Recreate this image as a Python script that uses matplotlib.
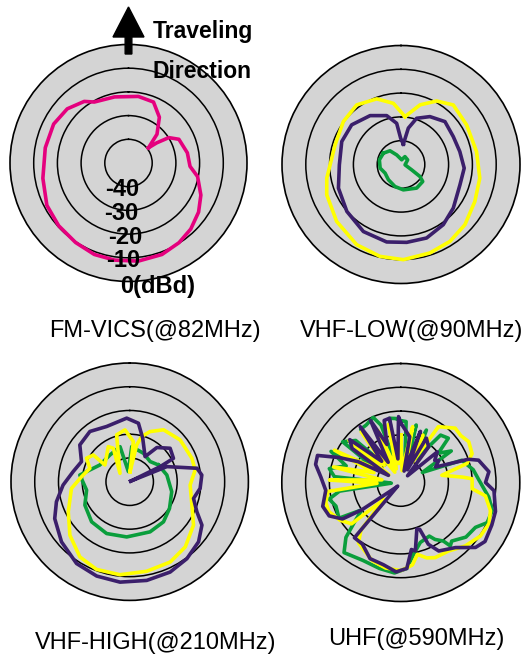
import numpy as np
import matplotlib
matplotlib.use('Agg')
import matplotlib.pyplot as plt
from matplotlib.patches import FancyArrow

plt.rcParams['font.family'] = ['Liberation Sans', 'DejaVu Sans']

W, H = 525, 654

## colours of the measured series
PINK = '#e5007e'
PURPLE = '#3b1f6b'
YELLOW = '#ffff00'
GREEN = '#0a9e3c'
DISC = '#d4d4d4'

## FM-VICS (@82MHz) - angle (deg, clockwise from travel direction) / level (dBd)
fm_ang = [52.7, 44.7, 34.0, 22.3, 8.4, 348.1, 330.7, 324.3, 311.5, 297.5, 280.4, 259.9,
          242.6, 228.1, 213.6, 200.5, 188.1, 174.3, 159.9, 147.6, 136.7, 125.0, 113.9,
          101.1, 93.1, 80.2, 64.8, 57.8, 54.5]
fm_db = [-39.4, -32.9, -26.7, -22.2, -21.6, -21.5, -20.5, -18.0, -15.5, -14.4, -14.3, -13.3,
         -11.2, -10.4, -9.7, -8.8, -8.6, -8.4, -8.9, -10.2, -11.7, -13.9, -16.6,
         -20.3, -24.0, -24.8, -26.5, -29.9, -35.3]

## VHF-LOW (@90MHz)
low_yellow_ang = [4.8, 17.7, 29.3, 41.3, 58.9, 80.3, 99.8, 116.6, 133.3, 147.5, 161.9, 178.6,
                  192.9, 208.9, 228.5, 247.8, 259.6, 286.6, 306.7, 323.4, 339.7, 352.9]
low_yellow_db = [-29.8, -23.7, -19.4, -16.7, -17.8, -17.8, -16.4, -15.3, -13.1, -11.7, -10.9, -10.0,
                 -10.4, -11.5, -13.9, -16.3, -18.3, -21.1, -19.8, -18.8, -20.6, -24.1]
low_purple_ang = [6.5, 11.4, 18.7, 31.1, 45.7, 61.9, 77.6, 93.3, 109.0, 129.8, 144.9, 160.8,
                  175.8, 190.5, 209.3, 229.1, 249.3, 269.7, 291.2, 308.8, 327.7, 343.7, 354.0, 359.3]
low_purple_db = [-41.4, -34.4, -29.5, -26.5, -24.2, -25.1, -24.7, -23.4, -23.8, -21.4, -19.1, -17.3,
                 -17.2, -16.9, -17.7, -19.9, -21.9, -24.1, -23.3, -23.4, -25.7, -28.6, -32.6, -39.0]
low_green_ang = [302.7, 321.2, 335.9, 8.1, 26.6, 55.0, 94.8, 116.6, 122.3, 128.1, 146.5, 174.7,
                 195.3, 219.6, 241.6, 260.1, 282.2]
low_green_db = [-41.2, -42.6, -45.6, -48.0, -46.3, -46.6, -48.3, -45.0, -40.6, -38.4, -38.1, -39.3,
                -40.4, -41.7, -42.4, -41.1, -40.7]

## VHF-HIGH (@210MHz)
high_green_ang = [59.8, 79.8, 103.4, 123.9, 139.9, 157.9, 183.1, 204.0, 223.5, 242.4, 259.0, 277.6,
                  286.4, 299.3, 323.6, 344.6, 352.4, 3.3, 25.8, 45.5]
high_green_db = [-36.0, -34.1, -31.8, -29.8, -27.9, -27.2, -26.7, -26.1, -26.7, -28.7, -31.5, -28.8,
                 -32.5, -35.6, -36.0, -34.7, -45.7, -35.2, -36.7, -37.9]
high_yellow_ang = [1.9, 10.8, 14.9, 22.1, 33.1, 50.4, 69.4, 79.9, 93.2, 110.6, 124.2, 139.6, 153.2,
                   169.2, 186.0, 200.7, 213.5, 228.2, 243.9, 263.4, 275.9, 288.6, 298.5, 306.3, 304.0,
                   328.6, 333.9, 310.8, 344.4, 354.8, 5.2]
high_yellow_db = [-45.8, -34.2, -30.3, -27.2, -23.9, -22.4, -22.0, -22.0, -24.5, -22.0, -17.5, -13.9, -12.1,
                  -11.6, -10.6, -10.5, -12.0, -16.2, -21.2, -25.3, -29.6, -32.3, -29.3, -31.0, -37.4,
                  -32.7, -34.3, -44.6, -29.5, -28.1, -33.0]
high_purple_ang = [60, 67.9, 78.7, 84.7, 95.4, 104.7, 114.1, 121.0, 131.1, 143.4, 155.9, 170.2, 185.5,
                   199.3, 213.0, 228.6, 243.8, 254.7, 267.1, 280.1, 292.6, 306.4, 321.6, 337.3, 357.3,
                   8.5, 16.7, 31.5, 38.5, 50.4, 61.9, 63.7]
high_purple_db = [-49.5, -33.1, -21.1, -19.5, -20.2, -22.2, -19.0, -14.5, -11.5, -9.6, -8.3, -7.8, -7.5,
                  -7.9, -8.9, -11.7, -14.8, -18.0, -21.9, -25.8, -28.0, -23.9, -23.0, -24.8, -23.2,
                  -25.1, -30.9, -37.6, -31.6, -27.9, -29.1, -35.7]

## UHF (@590MHz)
uhf_green_ang = [0, 5, 10, 15, 20, 26, 33, 40, 47, 52, 58, 65, 70, 80, 88, 99.5, 107, 115, 121, 130,
                 139, 142, 144, 149, 152, 162, 170, 176, 184, 194, 206, 219, 225, 230, 235, 240, 250,
                 257, 262, 266, 270, 275, 281, 287, 294, 300, 305, 313, 318, 323, 329, 337, 341, 345,
                 350, 355]
uhf_green_db = [-24, -24.3, -40, -25, -42, -25.5, -38, -24, -22.7, -30, -25, -40, -22.7, -19.1, -17.2,
                -12.5, -9.8, -10.0, -13.4, -14.3, -17.4, -16.2, -19.6, -22.1, -24.5, -23.5, -19.3,
                -13.8, -11.9, -12.8, -13.6, -12.1, -17.4, -25, -30, -20, -21, -19.1, -24, -46, -44,
                -22, -19.4, -26, -17.9, -36, -20.2, -24.1, -40, -22, -21.8, -20.3, -24.5, -42, -22.6, -23]
uhf_yellow_ang = [0, 6, 12, 18, 25, 30, 34, 45, 52, 59, 68, 74, 80, 85, 87, 95, 99, 107.5, 115, 124,
                  134.5, 145, 155.5, 161, 167, 172, 180, 190, 200, 210, 215, 220, 225, 230, 238, 248,
                  255, 263, 268, 272, 278, 283, 290, 296, 303, 309, 316, 322, 330, 336, 342, 348, 354]
uhf_yellow_db = [-30, -45, -26, -44, -28, -40, -21.7, -17.7, -18, -16.7, -17.7, -21.1, -32.5, -24, -20,
                 -19.9, -14.0, -10.5, -9.1, -9.7, -12.0, -14.9, -15.3, -16.5, -19, -15, -13, -13.5,
                 -15, -18, -19, -24, -40, -23, -20, -17.4, -17.4, -19.1, -40, -20, -42, -21, -38, -19,
                 -44, -22, -40, -23, -45, -26, -44, -25, -42]
uhf_purple_ang = [0, 11, 16, 21, 27, 30, 38, 45, 50, 57, 60, 66, 71, 74, 83, 90, 95, 107, 115, 125,
                  131, 140, 151, 156, 158, 161, 168, 171, 176, 183, 192, 202, 212, 220, 221, 225, 235,
                  238, 245, 253, 264, 274, 282, 288, 292, 296, 300, 305, 310, 318, 324, 328, 334, 340,
                  345, 350, 353, 358]
uhf_purple_db = [-25, -30.4, -45, -27, -44, -28.5, -31, -46, -30, -33, -31.6, -34, -20, -16, -12.7,
                 -14.4, -10.7, -8.4, -7.8, -6.8, -8.4, -14.3, -17.1, -21.6, -28.8, -29.3, -20.6,
                 -21.5, -13.8, -12.4, -14.7, -15.5, -19.5, -19.7, -48, -47, -30, -21.1, -16.8, -15.7,
                 -18.3, -16.3, -13.4, -13.2, -22, -30, -44, -25, -22, -38, -21, -40, -21, -33, -23,
                 -22.6, -40, -22.3]

ring_levels = [-40, -30, -20, -10]
titles = ['FM-VICS(@82MHz)', 'VHF-LOW(@90MHz)', 'VHF-HIGH(@210MHz)', 'UHF(@590MHz)']


def px_rect(cx, cy, R):
    return [(cx - R) / W, 1 - (cy + R) / H, 2 * R / W, 2 * R / H]


def make_polar(fig, cx, cy, R):
    ax = fig.add_axes(px_rect(cx, cy, R), projection='polar')
    ax.set_theta_zero_location('N')
    ax.set_theta_direction(-1)
    ax.set_facecolor(DISC)
    ax.set_ylim(0, 50)
    ax.set_xticks([])
    ax.set_yticks([lv + 50 for lv in ring_levels])
    ax.set_yticklabels([])
    ax.grid(True, color='black', linewidth=1.1, linestyle='-')
    ax.spines['polar'].set_color('black')
    ax.spines['polar'].set_linewidth(1.2)
    return ax


def pattern(ax, ang, db, color):
    a = np.deg2rad(list(ang) + [ang[0]])
    r = np.array(list(db) + [db[0]]) + 50
    ax.plot(np.unwrap(a), r, color=color, lw=2.6, solid_joinstyle='round')


fig = plt.figure(figsize=(W / 100, H / 100), dpi=100)

ax1 = make_polar(fig, 128.5, 163, 118.5)
pattern(ax1, fm_ang, fm_db, PINK)
for lv, dx in zip(ring_levels, [-6, -7.5, -3.5, -5.5]):
    ax1.annotate(str(lv), xy=(np.pi, lv + 50), xytext=(dx, -9.5), textcoords='offset pixels',
                 ha='center', va='baseline', fontsize=17, fontweight='bold', annotation_clip=False)
ax1.annotate('0(dBd)', xy=(np.pi, 50), xytext=(-8.5, -12), textcoords='offset pixels',
             ha='left', va='baseline', fontsize=17, fontweight='bold', annotation_clip=False)

ax2 = make_polar(fig, 401, 164.5, 119)
pattern(ax2, low_green_ang, low_green_db, GREEN)
pattern(ax2, low_yellow_ang, low_yellow_db, YELLOW)
pattern(ax2, low_purple_ang, low_purple_db, PURPLE)

ax3 = make_polar(fig, 129.7, 481.7, 118.7)
pattern(ax3, high_green_ang, high_green_db, GREEN)
pattern(ax3, high_yellow_ang, high_yellow_db, YELLOW)
pattern(ax3, high_purple_ang, high_purple_db, PURPLE)

ax4 = make_polar(fig, 400.8, 482.5, 119)
pattern(ax4, uhf_green_ang, uhf_green_db, GREEN)
pattern(ax4, uhf_yellow_ang, uhf_yellow_db, YELLOW)
pattern(ax4, uhf_purple_ang, uhf_purple_db, PURPLE)

## travelling direction arrow
arrow = FancyArrow(1.285, (H - 54) / 100, 0, 0.47, width=0.067, head_width=0.31, head_length=0.30,
                   length_includes_head=True, color='black', transform=fig.dpi_scale_trans)
fig.add_artist(arrow)
fig.text(153 / W, 1 - 38.3 / H, 'Traveling', fontsize=16.5, fontweight='bold', va='baseline')
fig.text(153 / W, 1 - 78.3 / H, 'Direction', fontsize=16.5, fontweight='bold', va='baseline')

## captions
for (x, y), t in zip([(155, 336.5), (411.7, 336.5), (155.5, 649), (416, 645)], titles):
    fig.text(x / W, 1 - y / H, t, fontsize=17, ha='center', va='baseline')

fig.savefig('out.png', dpi=100)
